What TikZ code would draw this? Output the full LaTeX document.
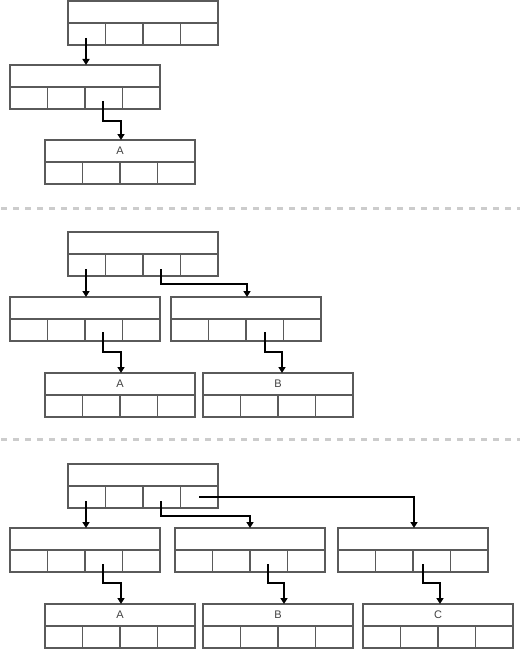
\documentclass[tikz,border=0pt]{standalone}
\usepackage{fontspec}
\setmainfont{Liberation Sans}
\usetikzlibrary{arrows.meta,calc}
\definecolor{boxgray}{HTML}{5A5A5A}
\definecolor{dashgray}{HTML}{CCCCCC}
\tikzset{
 recbox/.style={draw=boxgray, line width=1.2pt, minimum width=150pt, minimum height=44pt,
   inner sep=0pt, outer sep=0pt, anchor=north west,
   path picture={
     \draw[boxgray, line width=1.2pt] (path picture bounding box.west) -- (path picture bounding box.east);
     \foreach \k in {37.5,75,112.5}
       \draw[boxgray, line width=1.2pt] ([xshift=\k pt]path picture bounding box.south west) -- ([xshift=\k pt]path picture bounding box.west);
   }},
 lbl/.style={font=\fontsize{11}{13}\selectfont, inner sep=0pt, text=black!75},
 arr/.style={line width=1.5pt, -{Triangle[width=7pt,length=6pt]}, black},
 sepline/.style={dashgray, line width=3pt, dash pattern=on 6pt off 6pt},
}
\begin{document}
\begin{tikzpicture}[x=1pt,y=-1pt]
\useasboundingbox (0,0) rectangle (520,650);

% separators
\coordinate (d1l) at (1,208); \coordinate (d1r) at (520,208);
\coordinate (d2l) at (1,439); \coordinate (d2r) at (520,439);
\draw[sepline] (d1l) -- (d1r);
\draw[sepline] (d2l) -- (d2r);

% ---------- section 1
\node[recbox] (r1) at (68,1) {};
\node[recbox] (m1) at (10,65) {};
\node[recbox] (A1) at (45,140) {};
\node[lbl] (A1t) at ([yshift=-11pt]A1.north) {A};
\coordinate (s1a) at ([shift={(18,37)}]r1.north west);
\draw[arr] (s1a) -- (s1a |- m1.north);
\coordinate (s1b) at ([shift={(93,36)}]m1.north west);
\coordinate (k1b) at ([shift={(93,12)}]m1.south west);
\draw[arr] (s1b) -- (k1b) -| ([xshift=1pt]A1.north);

% ---------- section 2
\node[recbox] (r2) at (68,232) {};
\node[recbox] (m2a) at (10,297) {};
\node[recbox] (m2b) at (171,297) {};
\node[recbox] (A2) at (45,373) {};
\node[recbox] (B2) at (203,373) {};
\node[lbl] (A2t) at ([yshift=-11pt]A2.north) {A};
\node[lbl] (B2t) at ([yshift=-11pt]B2.north) {B};
\coordinate (s2a) at ([shift={(18,37)}]r2.north west);
\draw[arr] (s2a) -- (s2a |- m2a.north);
\coordinate (s2b) at ([shift={(93,37)}]r2.north west);
\coordinate (k2b) at ([shift={(93,8)}]r2.south west);
\draw[arr] (s2b) -- (k2b) -| ([xshift=1pt]m2b.north);
\coordinate (s2c) at ([shift={(93,35)}]m2a.north west);
\coordinate (k2c) at ([shift={(93,11)}]m2a.south west);
\draw[arr] (s2c) -- (k2c) -| ([xshift=1pt]A2.north);
\coordinate (s2d) at ([shift={(94,35)}]m2b.north west);
\coordinate (k2d) at ([shift={(94,11)}]m2b.south west);
\draw[arr] (s2d) -- (k2d) -| ([xshift=4pt]B2.north);

% ---------- section 3
\node[recbox] (r3) at (68,464) {};
\node[recbox] (m3a) at (10,528) {};
\node[recbox] (m3b) at (175,528) {};
\node[recbox] (m3c) at (338,528) {};
\node[recbox] (A3) at (45,604) {};
\node[recbox] (B3) at (203,604) {};
\node[recbox] (C3) at (363,604) {};
\node[lbl] (A3t) at ([yshift=-11pt]A3.north) {A};
\node[lbl] (B3t) at ([yshift=-11pt]B3.north) {B};
\node[lbl] (C3t) at ([yshift=-11pt]C3.north) {C};
\coordinate (s3a) at ([shift={(18,37)}]r3.north west);
\draw[arr] (s3a) -- (s3a |- m3a.north);
\coordinate (s3b) at ([shift={(93,37)}]r3.north west);
\coordinate (k3b) at ([shift={(93,8)}]r3.south west);
\draw[arr] (s3b) -- (k3b) -| (m3b.north);
\coordinate (s3c) at ([shift={(131,33)}]r3.north west);
\draw[arr] (s3c) -| ([xshift=1pt]m3c.north);
\coordinate (s3d) at ([shift={(93,36)}]m3a.north west);
\coordinate (k3d) at ([shift={(93,11)}]m3a.south west);
\draw[arr] (s3d) -- (k3d) -| ([xshift=1pt]A3.north);
\coordinate (s3e) at ([shift={(93,36)}]m3b.north west);
\coordinate (k3e) at ([shift={(93,11)}]m3b.south west);
\draw[arr] (s3e) -- (k3e) -| ([xshift=6pt]B3.north);
\coordinate (s3f) at ([shift={(85,36)}]m3c.north west);
\coordinate (k3f) at ([shift={(85,11)}]m3c.south west);
\draw[arr] (s3f) -- (k3f) -| ([xshift=2pt]C3.north);
\end{tikzpicture}
\end{document}
